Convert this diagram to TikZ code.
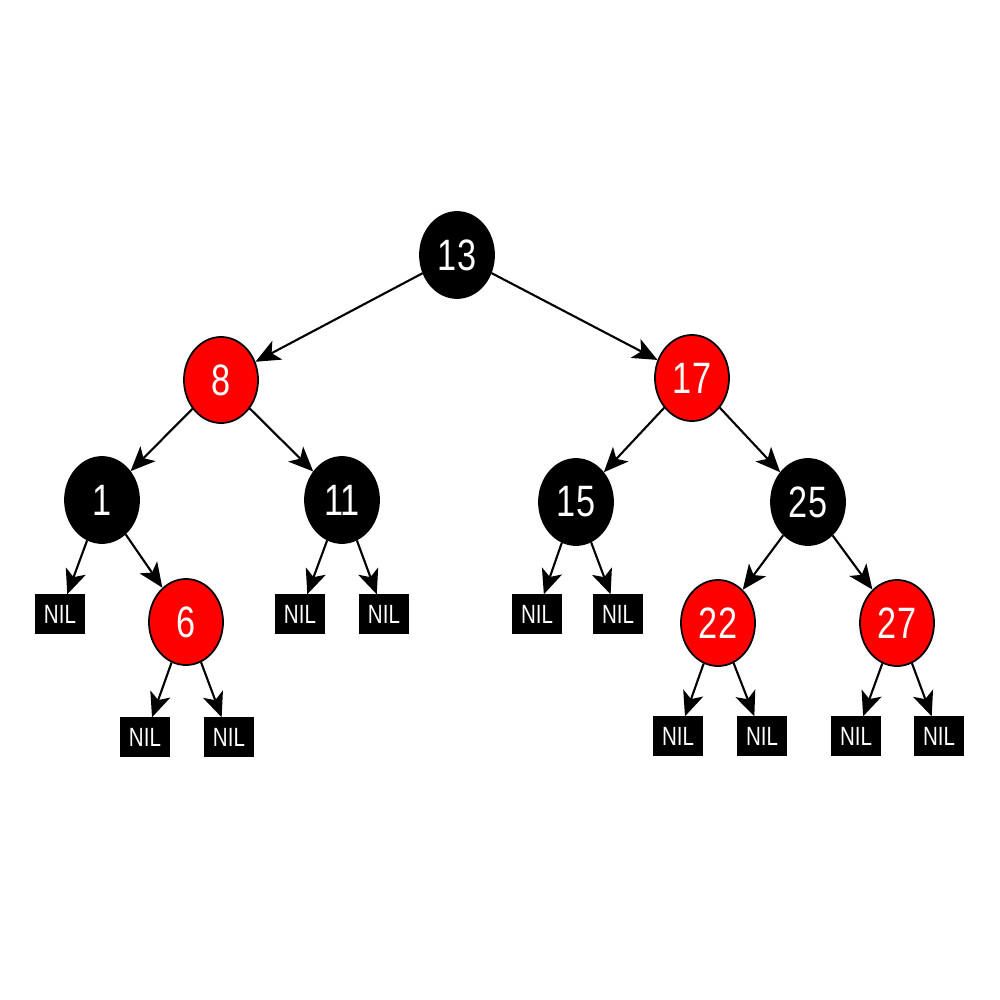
\documentclass[tikz,border=0pt]{standalone}
\usepackage{fontspec}
\usepackage{graphicx}
\setmainfont{Liberation Sans}
\usetikzlibrary{shapes.geometric,arrows.meta}
\definecolor{rbred}{RGB}{255,0,0}
\tikzset{
  rbnode/.style={ellipse, draw=black, line width=0.5pt, inner sep=0pt,
    minimum width=0.74cm, minimum height=0.86cm, text=white,
    font=\fontsize{12.5}{12.5}\selectfont},
  blk/.style={rbnode, fill=black},
  rd/.style={rbnode, fill=rbred},
  nil/.style={rectangle, draw=black, fill=black, inner sep=0pt,
    minimum width=0.49cm, minimum height=0.38cm, text=white,
    font=\fontsize{7.5}{7.5}\selectfont},
  link/.style={-{Stealth[length=7pt,width=6pt,inset=1.8pt]}, line width=0.6pt, black}
}
\newcommand{\nm}[1]{\scalebox{0.78}[1]{#1}}
\begin{document}
\begin{tikzpicture}[x=0.01cm,y=-0.01cm]
\useasboundingbox[fill=white] (0,0) rectangle (1000,1000);
% internal nodes
\node[blk] (n13) at (457,255) {\nm{13}};
\node[rd]  (n8)  at (221,380) {\nm{8}};
\node[rd]  (n17) at (692,378) {\nm{17}};
\node[blk] (n1)  at (102,500) {\nm{1}};
\node[blk] (n11) at (342,500) {\nm{11}};
\node[blk] (n15) at (576,502) {\nm{15}};
\node[blk] (n25) at (808,502) {\nm{25}};
\node[rd]  (n6)  at (186,622) {\nm{6}};
\node[rd]  (n22) at (718,623) {\nm{22}};
\node[rd]  (n27) at (897,623) {\nm{27}};
% leaves
\node[nil] (l1)  at (60,614)  {\nm{NIL}};
\node[nil] (l2)  at (300,614) {\nm{NIL}};
\node[nil] (l3)  at (384,614) {\nm{NIL}};
\node[nil] (l4)  at (537,614) {\nm{NIL}};
\node[nil] (l5)  at (618,614) {\nm{NIL}};
\node[nil] (l6)  at (145,737) {\nm{NIL}};
\node[nil] (l7)  at (229,737) {\nm{NIL}};
\node[nil] (l8)  at (678,736) {\nm{NIL}};
\node[nil] (l9)  at (762,736) {\nm{NIL}};
\node[nil] (l10) at (856,736) {\nm{NIL}};
\node[nil] (l11) at (939,736) {\nm{NIL}};
% edges
\draw[link] (n13) -- (n8);
\draw[link] (n13) -- (n17);
\draw[link] (n8) -- (n1);
\draw[link] (n8) -- (n11);
\draw[link] (n17) -- (n15);
\draw[link] (n17) -- (n25);
\draw[link] (n1) -- (l1);
\draw[link] (n1) -- (n6);
\draw[link] (n11) -- (l2);
\draw[link] (n11) -- (l3);
\draw[link] (n15) -- (l4);
\draw[link] (n15) -- (l5);
\draw[link] (n25) -- (n22);
\draw[link] (n25) -- (n27);
\draw[link] (n6) -- (l6);
\draw[link] (n6) -- (l7);
\draw[link] (n22) -- (l8);
\draw[link] (n22) -- (l9);
\draw[link] (n27) -- (l10);
\draw[link] (n27) -- (l11);
\end{tikzpicture}
\end{document}
